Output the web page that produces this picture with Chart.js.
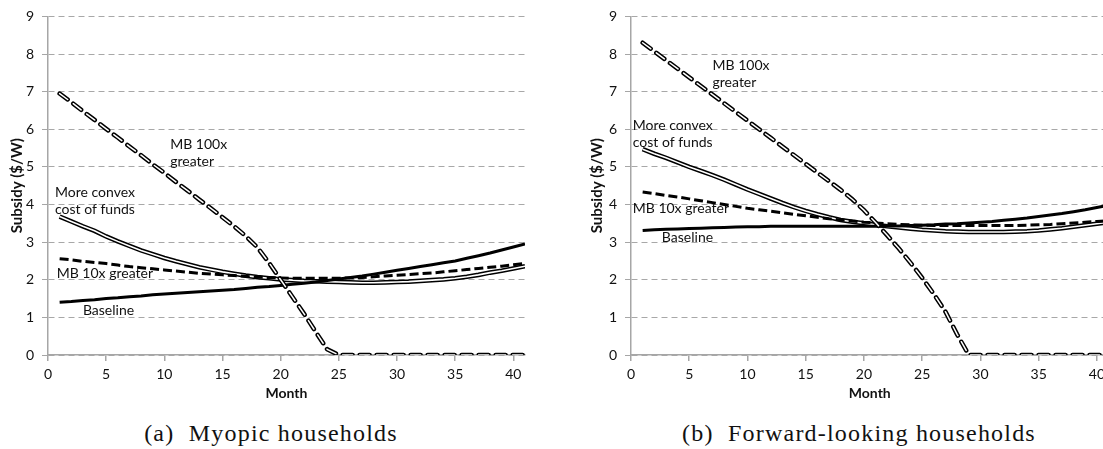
<!DOCTYPE html>
<html>
<head>
<meta charset="utf-8">
<script src="https://cdn.jsdelivr.net/npm/chart.js@4"></script>
<style>
  html, body { margin: 0; padding: 0; background: #fff; width: 1103px; height: 449px; overflow: hidden; position: relative; }
  canvas { position: absolute; top: 0; }
  #leftChart { left: 0; }
  #rightChart { left: 580px; }
  .caption { position: absolute; top: 420px; font-family: "Liberation Serif", serif; font-size: 24px; letter-spacing: 1.2px;
             color: #111; text-align: center; white-space: pre; }
</style>
</head>
<body>
<canvas id="leftChart" width="540" height="402"></canvas>
<canvas id="rightChart" width="530" height="402"></canvas>
<div class="caption" style="left:0; width:542px;">(a)  Myopic households</div>
<div class="caption" style="left:616px; width:486px;">(b)  Forward-looking households</div>
<script>
// months 1..41
const months = [1, 2, 3, 4, 5, 6, 7, 8, 9, 10, 11, 12, 13, 14, 15, 16, 17, 18, 19, 20,
  21, 22, 23, 24, 25, 26, 27, 28, 29, 30, 31, 32, 33, 34, 35, 36, 37, 38, 39, 40, 41];

const xTicks = [0, 5, 10, 15, 20, 25, 30, 35, 40];
const yTicks = [0, 1, 2, 3, 4, 5, 6, 7, 8, 9];

// (a) Myopic households
const leftBaseline = [1.40, 1.42, 1.45, 1.47, 1.50, 1.52, 1.55, 1.57, 1.60, 1.62, 1.64, 1.66, 1.68, 1.70, 1.72, 1.74, 1.77, 1.80, 1.82, 1.85,
  1.88, 1.91, 1.94, 1.98, 2.02, 2.06, 2.10, 2.15, 2.20, 2.25, 2.30, 2.35, 2.40, 2.45, 2.50, 2.57, 2.64, 2.71, 2.79, 2.87, 2.95];
const leftConvex = [3.68, 3.55, 3.42, 3.30, 3.15, 3.02, 2.90, 2.78, 2.68, 2.58, 2.49, 2.41, 2.33, 2.27, 2.21, 2.16, 2.11, 2.07, 2.04, 2.01,
  1.99, 1.97, 1.96, 1.95, 1.94, 1.93, 1.92, 1.92, 1.93, 1.94, 1.95, 1.97, 1.99, 2.01, 2.04, 2.08, 2.13, 2.19, 2.24, 2.30, 2.36];
const leftMb10 = [2.56, 2.53, 2.49, 2.46, 2.43, 2.39, 2.35, 2.32, 2.29, 2.26, 2.23, 2.20, 2.17, 2.15, 2.13, 2.11, 2.09, 2.07, 2.06, 2.05,
  2.04, 2.04, 2.04, 2.04, 2.04, 2.05, 2.06, 2.08, 2.10, 2.12, 2.14, 2.16, 2.18, 2.21, 2.24, 2.27, 2.30, 2.33, 2.36, 2.40, 2.43];
const leftMb100 = [6.95, 6.72, 6.48, 6.25, 6.01, 5.78, 5.54, 5.31, 5.07, 4.84, 4.60, 4.37, 4.13, 3.90, 3.66, 3.42, 3.16, 2.86, 2.45, 2.00,
  1.55, 1.10, 0.62, 0.15, 0, 0, 0, 0, 0, 0, 0, 0, 0, 0, 0, 0, 0, 0, 0, 0, 0];

// (b) Forward-looking households
const rightBaseline = [3.31, 3.33, 3.34, 3.35, 3.36, 3.37, 3.38, 3.39, 3.40, 3.41, 3.41, 3.42, 3.42, 3.42, 3.42, 3.42, 3.42, 3.42, 3.42, 3.42,
  3.42, 3.43, 3.43, 3.44, 3.45, 3.46, 3.48, 3.49, 3.51, 3.53, 3.55, 3.58, 3.61, 3.64, 3.68, 3.72, 3.76, 3.81, 3.86, 3.92, 3.98];
const rightConvex = [5.47, 5.35, 5.24, 5.12, 5.00, 4.89, 4.78, 4.66, 4.53, 4.40, 4.28, 4.16, 4.04, 3.93, 3.83, 3.74, 3.66, 3.59, 3.54, 3.50,
  3.46, 3.42, 3.39, 3.36, 3.33, 3.31, 3.29, 3.28, 3.27, 3.27, 3.27, 3.27, 3.28, 3.29, 3.31, 3.34, 3.37, 3.41, 3.45, 3.49, 3.53];
const rightMb10 = [4.33, 4.29, 4.24, 4.20, 4.15, 4.10, 4.05, 4.00, 3.95, 3.90, 3.86, 3.82, 3.78, 3.74, 3.70, 3.66, 3.62, 3.59, 3.56, 3.53,
  3.51, 3.49, 3.47, 3.46, 3.45, 3.44, 3.44, 3.44, 3.44, 3.44, 3.44, 3.44, 3.44, 3.45, 3.46, 3.47, 3.49, 3.51, 3.53, 3.55, 3.57];
const rightMb100 = [8.30, 8.07, 7.84, 7.61, 7.38, 7.15, 6.92, 6.69, 6.46, 6.23, 6.00, 5.77, 5.54, 5.31, 5.08, 4.85, 4.62, 4.39, 4.14, 3.85,
  3.52, 3.18, 2.83, 2.45, 2.05, 1.62, 1.15, 0.55, 0, 0, 0, 0, 0, 0, 0, 0, 0, 0, 0, 0, 0];

// in-plot labels, placed in data units (month, subsidy), left aligned
const leftNotes = [
  ['MB 100x', 10.5, 5.6], ['greater', 10.5, 5.15],
  ['More convex', 0.6, 4.31], ['cost of funds', 0.6, 3.86],
  ['MB 10x greater', 0.75, 2.17], ['Baseline', 3.0, 1.19]
];
const rightNotes = [
  ['MB 100x', 7.0, 7.7], ['greater', 7.0, 7.25],
  ['More convex', 0.15, 6.09], ['cost of funds', 0.15, 5.66],
  ['MB 10x greater', 0.15, 3.89], ['Baseline', 2.65, 3.12]
];

const labelFont = 'Lato, "Open Sans", sans-serif';

function pts(values) {
  return values.map((v, i) => ({ x: months[i], y: v }));
}

const notesPlugin = {
  id: 'notes',
  afterDatasetsDraw(chart, args, opts) {
    const ctx = chart.ctx;
    const x = chart.scales.x, y = chart.scales.y;
    ctx.save();
    ctx.font = '14px ' + labelFont;
    ctx.fillStyle = '#111';
    ctx.textAlign = 'left';
    ctx.textBaseline = 'middle';
    opts.items.forEach(n => {
      ctx.fillText(n[0], x.getPixelForValue(n[1]), y.getPixelForValue(n[2]));
    });
    ctx.restore();
  }
};

function makeChart(id, baseline, convex, mb10, mb100, notes, yWidth, padRight) {
  const ctx = document.getElementById(id).getContext('2d');
  return new Chart(ctx, {
    type: 'line',
    data: {
      datasets: [
        // double lines: black outer, white inner
        { data: pts(mb100), borderColor: '#fff', borderWidth: 1.5, borderDash: [10, 7], borderCapStyle: 'round', order: 0 },
        { data: pts(mb100), borderColor: '#000', borderWidth: 4.5, borderDash: [10, 7], borderCapStyle: 'round', order: 1 },
        { data: pts(baseline), borderColor: '#000', borderWidth: 3, order: 2 },
        { data: pts(mb10), borderColor: '#000', borderWidth: 3, borderDash: [9, 4], order: 3 },
        { data: pts(convex), borderColor: '#fff', borderWidth: 1.6, order: 4 },
        { data: pts(convex), borderColor: '#000', borderWidth: 4.6, order: 5 }
      ]
    },
    options: {
      responsive: false,
      animation: false,
      parsing: false,
      layout: { padding: { top: 15, right: padRight, left: 0, bottom: 0 } },
      elements: { point: { radius: 0 }, line: { tension: 0, fill: false } },
      plugins: {
        legend: { display: false },
        tooltip: { enabled: false },
        notes: { items: notes }
      },
      scales: {
        x: {
          type: 'linear',
          min: 0,
          max: 41,
          afterBuildTicks: s => { s.ticks = xTicks.map(v => ({ value: v })); },
          afterFit: s => { s.height = 47; },
          border: { color: '#a6a6a6', width: 1.5 },
          grid: { drawOnChartArea: false, drawTicks: true, tickLength: 6, color: '#a6a6a6', lineWidth: 1.5 },
          ticks: { autoSkip: false, maxRotation: 0, padding: 5, color: '#111', font: { family: labelFont, size: 14 } },
          title: { display: true, text: 'Month', color: '#111', padding: { top: 0, bottom: 0 },
                   font: { family: labelFont, size: 14, weight: 'bold' } }
        },
        y: {
          min: 0,
          max: 9,
          afterBuildTicks: s => { s.ticks = yTicks.map(v => ({ value: v })); },
          afterFit: s => { s.width = yWidth; },
          border: { color: '#a6a6a6', width: 1.5, dash: [6, 4] },
          grid: { color: '#a8a8a8', lineWidth: 1, tickLength: 6, tickColor: '#a6a6a6', tickBorderDash: [] },
          ticks: { padding: 8, color: '#111', font: { family: labelFont, size: 14 } },
          title: { display: true, text: 'Subsidy ($/W)', color: '#111', padding: { top: 8, bottom: 0 },
                   font: { family: labelFont, size: 15, weight: 'bold' } }
        }
      }
    },
    plugins: [notesPlugin]
  });
}

const leftChart = makeChart('leftChart', leftBaseline, leftConvex, leftMb10, leftMb100, leftNotes, 48, 15);
const rightChart = makeChart('rightChart', rightBaseline, rightConvex, rightMb10, rightMb100, rightNotes, 51, 0);
</script>
</body>
</html>
